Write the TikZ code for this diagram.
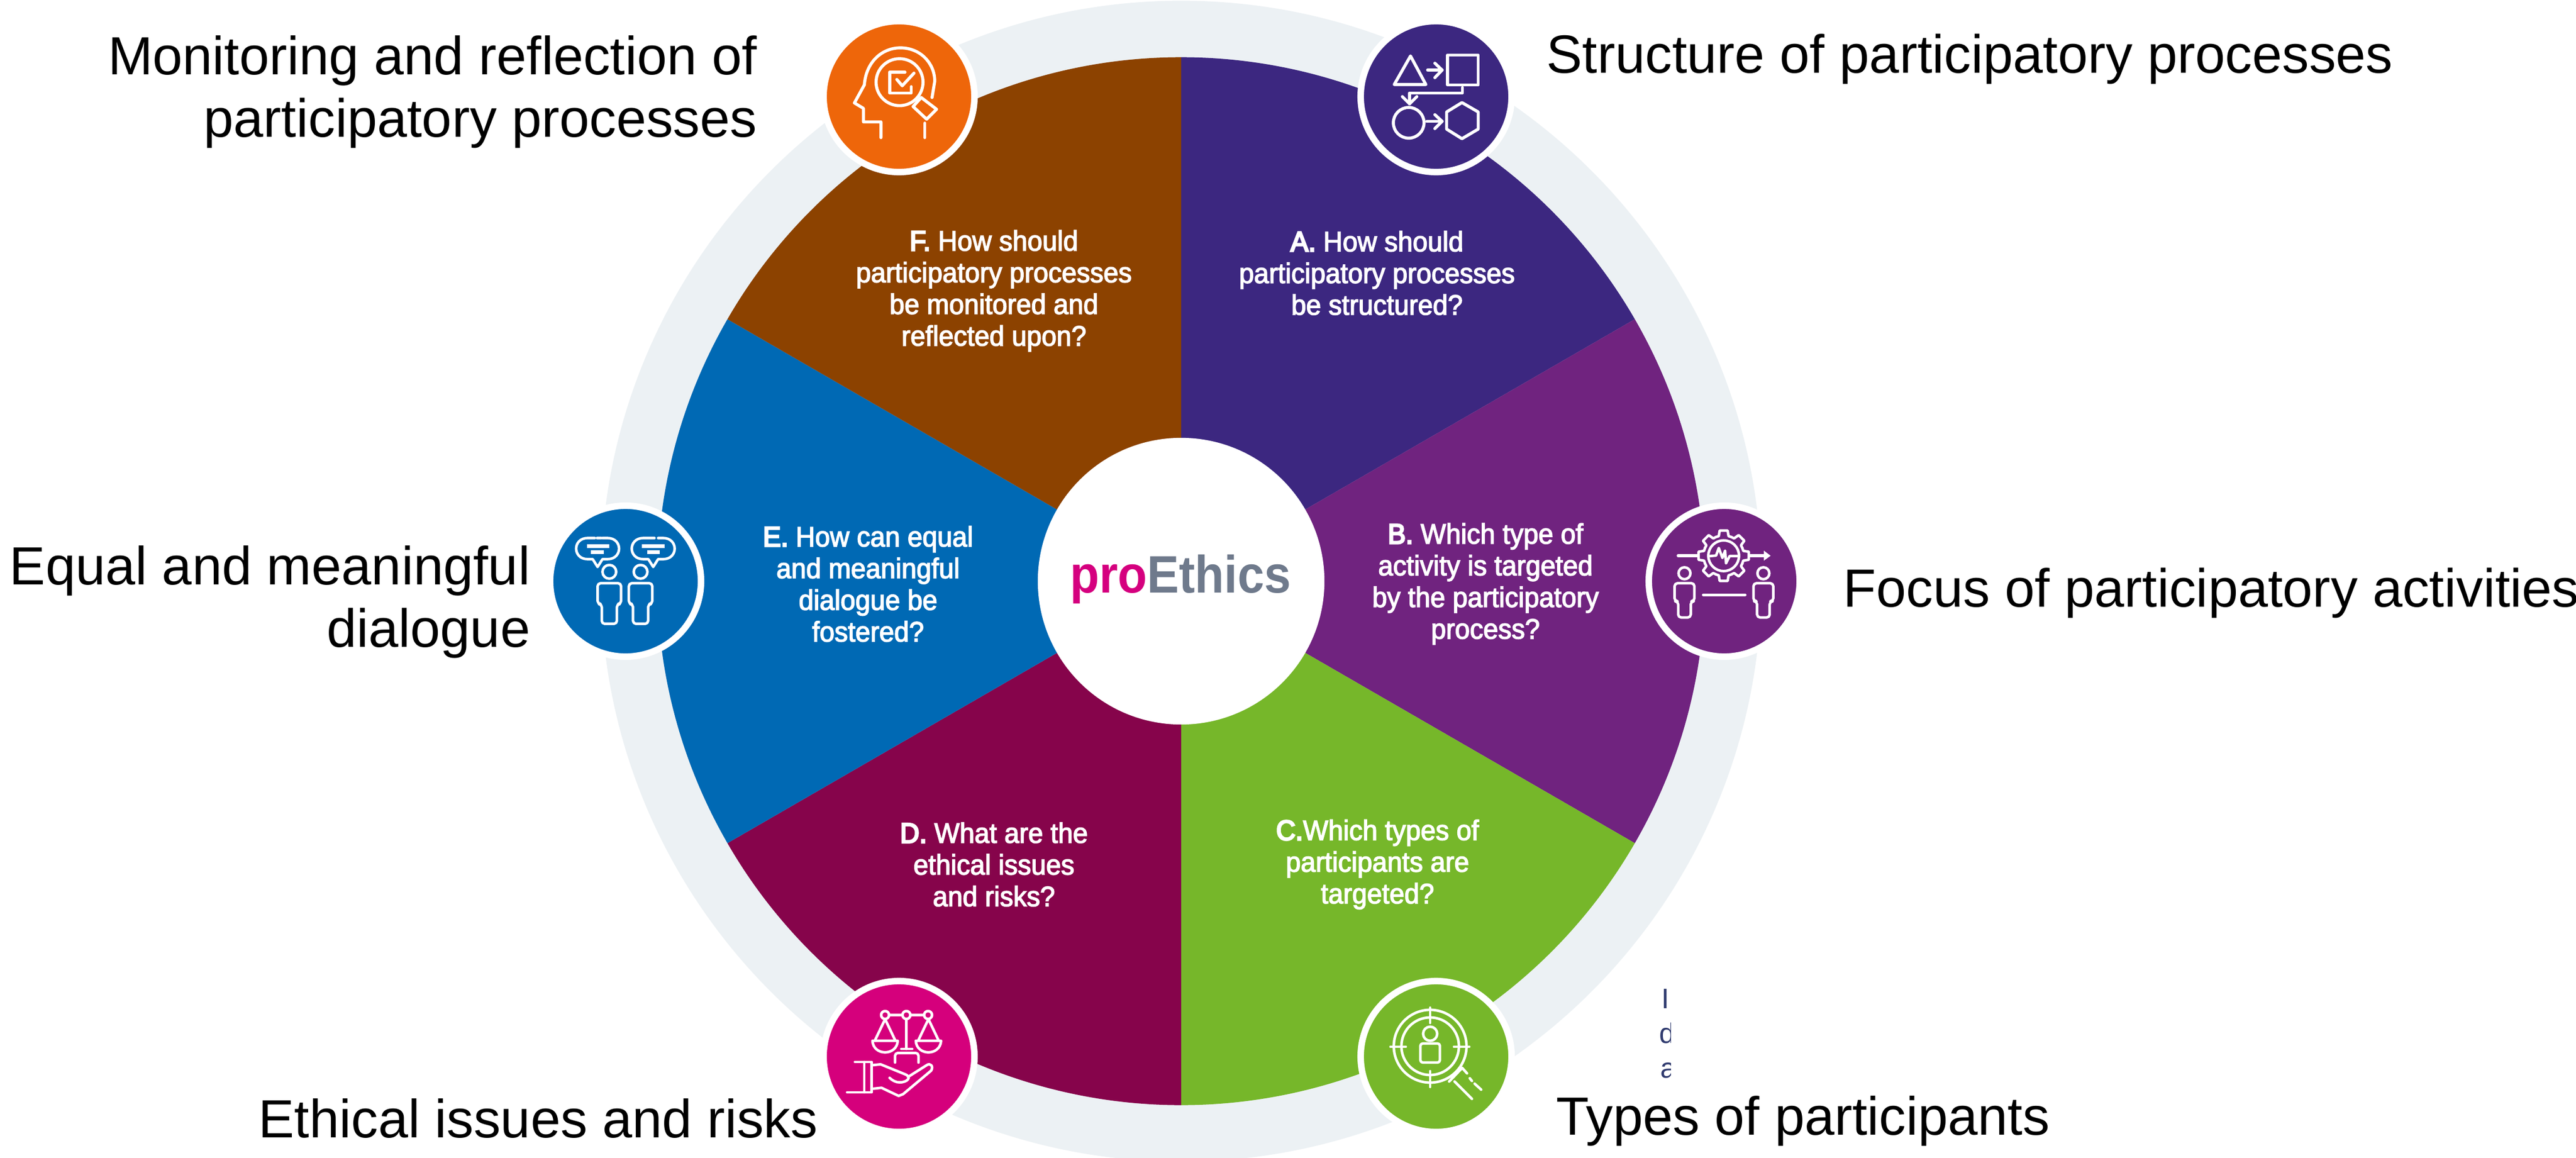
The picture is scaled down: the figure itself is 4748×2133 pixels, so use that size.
\documentclass[tikz,border=0pt]{standalone}
\usepackage{fontspec}
\setmainfont{Liberation Sans}
\newfontfamily\qfont[FakeStretch=0.95,FakeBold=2.8]{Liberation Sans}
\newfontfamily\qbold[FakeStretch=0.95,FakeBold=5.5]{Liberation Sans}
\newfontfamily\logofont[FakeStretch=0.91]{Liberation Sans}
\definecolor{ringc}{HTML}{ECF1F4}
\definecolor{colA}{HTML}{3C2780}
\definecolor{colB}{HTML}{70237F}
\definecolor{colC}{HTML}{76B72A}
\definecolor{colD}{HTML}{86044B}
\definecolor{colE}{HTML}{0069B4}
\definecolor{colF}{HTML}{8C4200}
\definecolor{icoD}{HTML}{D5007C}
\definecolor{icoF}{HTML}{EE660A}
\definecolor{logoP}{HTML}{D5007F}
\definecolor{logoG}{HTML}{6F7A8C}
\definecolor{clipc}{HTML}{2F3A6E}
\tikzset{
  icondisc/.style={circle,fill=#1,draw=white,line width=3.41pt,minimum size=2.78cm,inner sep=0pt},
  ico/.style={draw=white,line width=1.6pt,line join=round,line cap=round},
  icothin/.style={draw=white,line width=1.35pt,line join=round,line cap=round},
  biglabel/.style={inner sep=0pt,text=black,font=\fontsize{28.2}{32.7}\selectfont},
  question/.style={inner sep=0pt,text=white,align=center,font=\qfont\fontsize{14.8}{16.6}\selectfont},
  clipped/.style={inner sep=0pt,anchor=base west,text=clipc,font=\fontsize{14.8}{16}\selectfont},
  zoomthree/.style={x=0.003333cm,y=-0.003333cm}
}
% person outline in zoom units: cx, head cy, head r, half shoulder, top, waist, half leg, bottom
\newcommand{\personIcon}[8]{%
  \draw[icothin] (#1,#2) circle[radius=#3];
  \draw[icothin,rounded corners=1.6pt] ({#1-#7},#6) -- ({#1-#7},#8) -- ({#1+#7},#8) -- ({#1+#7},#6)
    -- ({#1+#4},#6) -- ({#1+#4},#5) -- ({#1-#4},#5) -- ({#1-#4},#6) -- cycle;
}
\begin{document}
\begin{tikzpicture}[x=0.01cm,y=-0.01cm]
\useasboundingbox (0,0) rectangle (4748,2133);
\clip (0,0) rectangle (4748,2133);
\fill[white] (0,0) rectangle (4748,2133);
\coordinate (centre) at (2177,1071);
\fill[ringc] (centre) circle[radius=10.69cm];
\begin{scope}[shift={(2177,1071)},y=0.01cm]
  \fill[colA] (0,0) -- (90:9.65cm) arc[start angle=90,end angle=30,radius=9.65cm] -- cycle;
  \fill[colB] (0,0) -- (30:9.65cm) arc[start angle=30,end angle=-30,radius=9.65cm] -- cycle;
  \fill[colC] (0,0) -- (-30:9.65cm) arc[start angle=-30,end angle=-90,radius=9.65cm] -- cycle;
  \fill[colD] (0,0) -- (-90:9.65cm) arc[start angle=-90,end angle=-150,radius=9.65cm] -- cycle;
  \fill[colE] (0,0) -- (-150:9.65cm) arc[start angle=-150,end angle=-210,radius=9.65cm] -- cycle;
  \fill[colF] (0,0) -- (150:9.65cm) arc[start angle=150,end angle=90,radius=9.65cm] -- cycle;
\end{scope}
\node[circle,fill=white,minimum size=5.28cm,inner sep=0pt] (hub) at (centre) {};
\node[anchor=base,inner sep=0pt,font=\logofont\bfseries\fontsize{27.6}{30}\selectfont] (logo) at (2176,1092)
  {\textcolor{logoP}{pro}\textcolor{logoG}{Ethics}};

% question texts
\node[question] (qA) at (2538,503) {{\qbold A.} How should\\participatory processes\\be structured?};
\node[question] (qB) at (2738,1076) {{\qbold B.} Which type of\\activity is targeted\\by the participatory\\process?};
\node[question] (qC) at (2539,1593) {{\qbold C.}Which types of\\participants are\\targeted?};
\node[question] (qD) at (1832,1593) {{\qbold D.} What are the\\ethical issues\\and risks?};
\node[question] (qE) at (1600,1076) {{\qbold E.} How can equal\\and meaningful\\dialogue be\\fostered?};
\node[question] (qF) at (1832,536) {{\qbold F.} How should\\participatory processes\\be monitored and\\reflected upon?};

% icon discs
\node[icondisc=icoF] (iconF) at (1657,178) {};
\node[icondisc=colA] (iconA) at (2647,178) {};
\node[icondisc=colB] (iconB) at (3178,1071) {};
\node[icondisc=colC] (iconC) at (2647,1947) {};
\node[icondisc=icoD] (iconD) at (1657,1947) {};
\node[icondisc=colE] (iconE) at (1153,1071) {};

% icon F : head with magnifier
\begin{scope}[shift={(1450,0)},zoomthree]
  \draw[ico] (522,762) -- (522,675) -- (425,675) -- (425,600) -- (375,570) -- (430,470)
    .. controls (440,340) and (530,265) .. (630,265)
    .. controls (740,265) and (820,350) .. (820,450) -- (805,540);
  \draw[ico] (765,682) -- (765,762);
  \draw[ico] (625,455) circle[radius=130];
  \draw[ico] (700,590) -- (745,540) -- (830,605) -- (775,660) -- cycle;
  \draw[ico] (655,400) -- (570,400) -- (570,515) -- (690,515) -- (690,480);
  \draw[ico] (610,440) -- (640,475) -- (705,405);
\end{scope}

% icon A : shapes and arrows
\begin{scope}[shift={(2450,0)},zoomthree]
  \draw[ico] (450,310) -- (535,468) -- (360,468) -- cycle;
  \draw[ico] (655,305) rectangle (825,470);
  \draw[ico] (545,388) -- (625,388);
  \draw[ico] (585,350) -- (625,388) -- (585,430);
  \draw[ico] (738,485) -- (738,515) -- (445,515) -- (445,575);
  \draw[ico] (405,535) -- (445,575) -- (485,535);
  \draw[ico] (440,680) circle[radius=85];
  \draw[ico] (540,672) -- (625,672);
  \draw[ico] (585,635) -- (625,672) -- (585,712);
  \draw[ico] (735,568) -- (825,620) -- (825,715) -- (735,768) -- (650,715) -- (650,620) -- cycle;
\end{scope}

% icon B : gear, arrow, two people
\begin{scope}[shift={(2950,900)},zoomthree]
  \begin{scope}[shift={(682,373)}]
    \foreach \a in {0,45,...,315} {
      \draw[icothin] (\a-22.5:112) -- (\a-14:112) -- (\a-9:141) -- (\a+9:141) -- (\a+14:112) -- (\a+22.5:112);
    }
    \draw[icothin] (0,0) circle[radius=85];
  \end{scope}
  \draw[icothin] (605,375) -- (640,372) -- (655,330) -- (675,385) -- (690,345) -- (695,415) -- (715,375) -- (760,375);
  \draw[ico] (430,373) -- (540,373);
  \draw[ico] (830,373) -- (915,373);
  \fill[white] (905,345) -- (942,373) -- (905,400) -- cycle;
  \draw[ico] (570,590) -- (800,590);
  \personIcon{465}{470}{33}{55}{525}{625}{35}{715}
  \personIcon{902}{470}{33}{55}{525}{625}{35}{715}
\end{scope}

% icon C : target, person, magnifier
\draw[icothin] (2636,1928) circle[radius=0.67cm];
\draw[icothin] (2636,1928) circle[radius=0.53cm];
\draw[icothin] (2636,1857) -- (2636,1885);
\draw[icothin] (2636,1974) -- (2636,2003);
\draw[icothin] (2563,1929) -- (2591,1929);
\draw[icothin] (2680,1929) -- (2708,1929);
\draw[icothin] (2636,1905) circle[radius=0.13cm];
\draw[icothin,rounded corners=1.2pt] (2618,1923) rectangle (2654,1958);
\draw[icothin] (2671,1993) -- (2695,1968) -- (2704,1978);
\draw[icothin] (2681,1993) -- (2713,2025);
\draw[icothin] (2709,1987) -- (2713,1992);
\draw[icothin] (2718,1997) -- (2730,2008);

% icon D : scales on a hand
\begin{scope}[shift={(1450,1750)},zoomthree]
  \foreach \cx in {545,663,783} { \draw[icothin] (\cx,362) circle[radius=22]; }
  \draw[icothin] (567,362) -- (641,362);
  \draw[icothin] (685,362) -- (761,362);
  \draw[icothin] (663,385) -- (663,550);
  \draw[icothin] (635,550) -- (695,550);
  \draw[icothin,rounded corners=1.5pt] (600,625) -- (600,572) -- (730,572) -- (730,625);
  \draw[icothin] (490,500) -- (545,385) -- (600,500);
  \draw[icothin] (475,505) -- (615,505) .. controls (610,590) and (480,590) .. (475,505);
  \draw[icothin] (730,500) -- (785,385) -- (840,500);
  \draw[icothin] (715,505) -- (855,505) .. controls (850,590) and (720,590) .. (715,505);
  \draw[icothin] (378,622) -- (470,622) -- (470,790) -- (335,790);
  \draw[icothin] (430,622) -- (430,790);
  \draw[icothin] (472,640) -- (520,635) -- (655,690)
    .. controls (695,705) and (670,735) .. (625,735) .. controls (605,735) and (585,725) .. (570,710);
  \draw[icothin] (480,770) -- (525,765) -- (620,810) -- (645,800) -- (800,670)
    .. controls (815,645) and (795,625) .. (775,640) -- (672,705);
\end{scope}

% icon E : two people with speech bubbles
\begin{scope}[shift={(980,900)},zoomthree]
  \draw[icothin] (350,275) -- (310,275) .. controls (225,275) and (225,392) .. (310,392) -- (338,392)
    -- (365,435) -- (392,392) -- (420,392) .. controls (505,392) and (505,275) .. (420,275) -- (392,275);
  \draw[icothin] (362,275) -- (385,275);
  \draw[line width=2pt,white] (305,320) -- (430,320);
  \draw[line width=2pt,white] (328,352) -- (400,352);
  \draw[icothin] (658,275) -- (618,275) .. controls (533,275) and (533,392) .. (618,392) -- (646,392)
    -- (673,435) -- (700,392) -- (728,392) .. controls (813,392) and (813,275) .. (728,275) -- (700,275);
  \draw[icothin] (650,275) -- (680,275);
  \draw[line width=2pt,white] (610,320) -- (735,320);
  \draw[line width=2pt,white] (640,352) -- (710,352);
  \personIcon{430}{462}{38}{65}{525}{640}{42}{750}
  \personIcon{603}{462}{38}{65}{525}{640}{42}{750}
\end{scope}

% clipped stray text
\begin{scope}
  \clip (3000,1780) rectangle (3079,2000);
  \node[clipped] (strayA) at (3062,1858) {In};
  \node[clipped] (strayB) at (3058,1922) {d};
  \node[clipped] (strayC) at (3060,1986) {a};
\end{scope}

% outer labels
\node[biglabel,anchor=east,align=right] (lF) at (1396,169) {Monitoring and reflection of\\participatory processes};
\node[biglabel,anchor=west] (lA) at (2850,109) {Structure of participatory processes};
\node[biglabel,anchor=west] (lB) at (3397,1093) {Focus of participatory activities};
\node[biglabel,anchor=west] (lC) at (2868,2066) {Types of participants};
\node[biglabel,anchor=east] (lD) at (1508,2061) {Ethical issues and risks};
\node[biglabel,anchor=east,align=right] (lE) at (978,1109) {Equal and meaningful\\dialogue};
\end{tikzpicture}
\end{document}
